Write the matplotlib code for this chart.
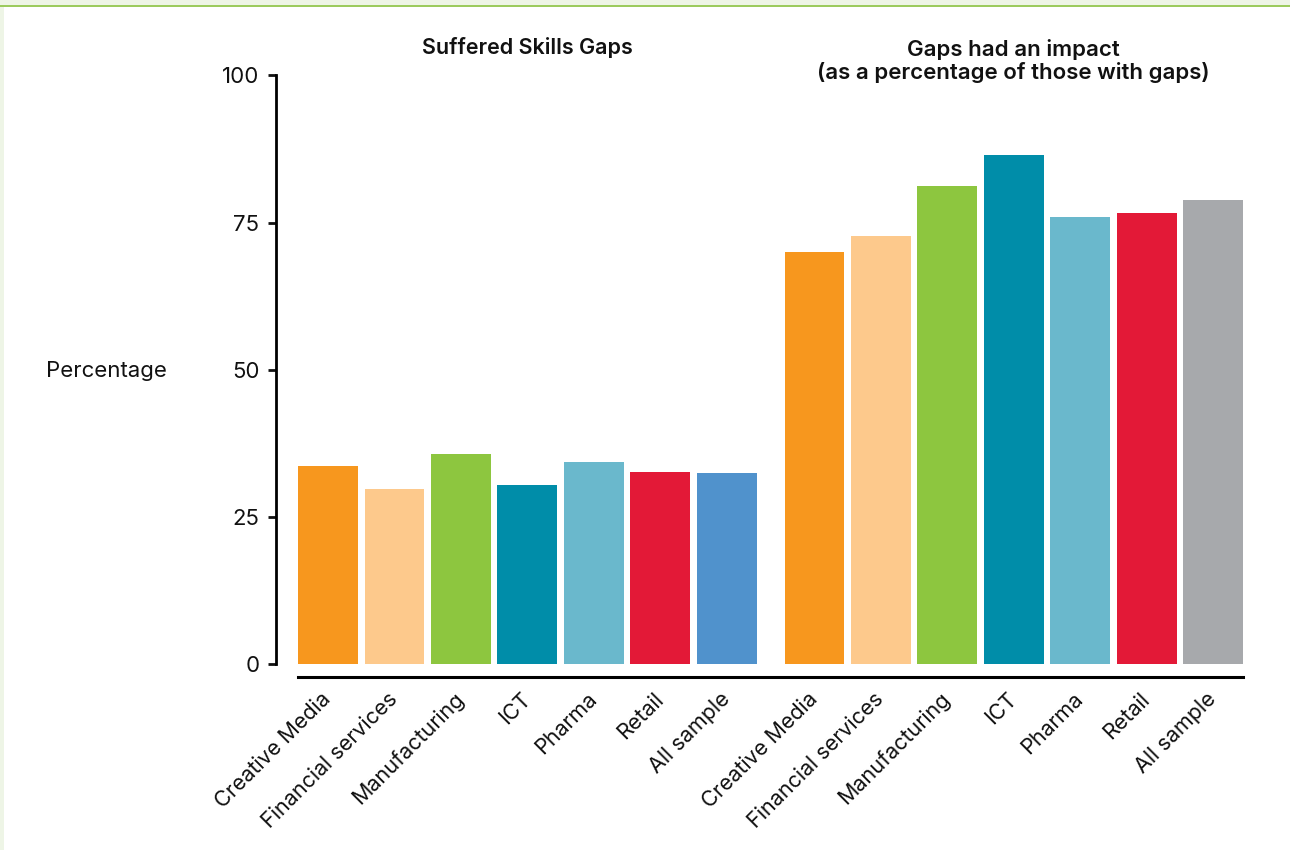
import matplotlib.pyplot as plt
from matplotlib.patches import Rectangle
from matplotlib.transforms import blended_transform_factory

plt.rcParams['font.family'] = ['Inter', 'DejaVu Sans']

# sectors shown in each panel
sectors = ['Creative Media', 'Financial services', 'Manufacturing', 'ICT',
           'Pharma', 'Retail', 'All sample']

# % of firms that suffered skills gaps
suffered = [33.7, 29.8, 35.7, 30.4, 34.4, 32.7, 32.5]
# % of those with gaps where the gaps had an impact
impact = [70.0, 72.7, 81.2, 86.5, 75.9, 76.6, 78.9]

suffered_colors = ['#F7971E', '#FDC98C', '#8DC63F', '#008DA9',
                   '#6AB8CC', '#E31937', '#5092CC']
impact_colors = ['#F7971E', '#FDC98C', '#8DC63F', '#008DA9',
                 '#6AB8CC', '#E31937', '#A7A9AC']

yticks = [0, 25, 50, 75, 100]

bar_w = 0.9
group_gap = 7.32
x1 = list(range(len(sectors)))
x2 = [x + group_gap for x in x1]

fig = plt.figure(figsize=(12.9, 8.5), dpi=100)
fig.patch.set_facecolor('white')

# light green frame at the top and left edge
fig.patches.append(Rectangle((0, 1 - 5 / 850), 1, 5 / 850, transform=fig.transFigure,
                             facecolor='#EEF5E6', edgecolor='none', zorder=0))
fig.patches.append(Rectangle((0, 0), 4 / 1290, 1, transform=fig.transFigure,
                             facecolor='#EEF5E6', edgecolor='none', zorder=0))
fig.patches.append(Rectangle((0, 1 - 6.5 / 850), 1, 2 / 850, transform=fig.transFigure,
                             facecolor='#9CCB5E', edgecolor='none', zorder=1))

ax = fig.add_axes([276 / 1290, 1 - 664.3 / 850, (1243 - 276) / 1290, (664.3 - 75.3) / 850])

ax.bar(x1, suffered, width=bar_w, color=suffered_colors)
ax.bar(x2, impact, width=bar_w, color=impact_colors)

ax.set_xlim(x1[0] - 52 / 66.44, x2[-1] + bar_w / 2)
ax.set_ylim(0, 100)

# spines first: set_position resets the tick objects
for s in ['top', 'right']:
    ax.spines[s].set_visible(False)
ax.spines['left'].set_linewidth(2)
ax.spines['left'].set_bounds(0, 100)
ax.spines['bottom'].set_linewidth(2.2)
ax.spines['bottom'].set_position(('outward', 9))
ax.spines['bottom'].set_bounds(x1[0] - bar_w / 2, x2[-1] + bar_w / 2)

ax.tick_params(axis='y', length=6, width=2, pad=6, labelsize=16, color='#111111',
               labelcolor='#111111')
ax.tick_params(axis='x', length=0, pad=14)
ax.set_yticks(yticks)
ax.set_xticks(x1 + x2)
ax.set_xticklabels(sectors + sectors, rotation=45, ha='right', va='center',
                   rotation_mode='anchor', fontsize=15.5, color='#111111')

# panel headings
trans = blended_transform_factory(ax.transData, fig.transFigure)
ax.text((x1[0] + x1[-1]) / 2, 1 - 48 / 850, 'Suffered Skills Gaps', transform=trans,
        ha='center', va='center', fontsize=15.5, fontweight='semibold', color='#111111')
ax.text((x2[0] + x2[-1]) / 2, 1 - 61 / 850,
        'Gaps had an impact\n(as a percentage of those with gaps)', transform=trans,
        ha='center', va='center', fontsize=16, fontweight='semibold', color='#111111',
        linespacing=1.15)

fig.text(46 / 1290, 1 - 371 / 850, 'Percentage', ha='left', va='center',
         fontsize=16, color='#111111')

fig.savefig('out.png', dpi=100)
